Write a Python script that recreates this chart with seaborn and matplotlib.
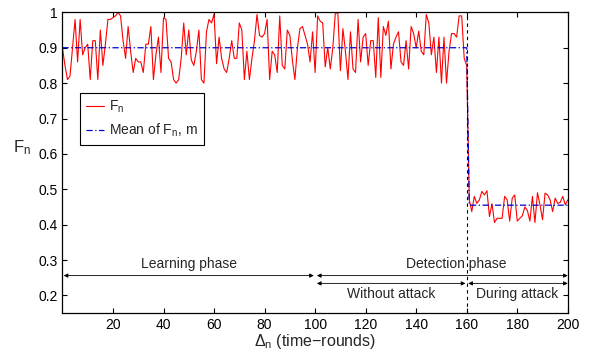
import numpy as np
import matplotlib
matplotlib.use("Agg")
import matplotlib.pyplot as plt
import seaborn as sns

# F_n before the attack starts (rounds 0..160)
f_normal = [0.90, 0.85, 0.81, 0.82, 0.90, 0.98, 0.86, 0.98, 0.88, 0.90,
            0.91, 0.81, 0.92, 0.92, 0.81, 0.95, 0.85, 0.91, 0.98, 0.98,
            0.985, 0.99, 1.0, 0.99, 0.92, 0.87, 0.96, 0.89, 0.83, 0.87,
            0.86, 0.86, 0.83, 0.91, 0.91, 0.96, 0.81, 0.88, 0.93, 0.83,
            0.985, 0.98, 0.87, 0.86, 0.81, 0.80, 0.81, 0.87, 0.97, 0.88,
            0.95, 0.865, 0.85, 0.89, 0.95, 0.81, 0.80, 0.945, 0.98, 0.97,
            0.995, 0.855, 0.93, 0.87, 0.84, 0.83, 0.87, 0.92, 0.87, 0.87,
            0.97, 0.95, 0.81, 0.89, 0.81, 0.87, 0.92, 0.994, 0.935, 0.93,
            0.94, 0.98, 0.81, 0.89, 0.88, 0.83, 0.99, 0.85, 0.84, 0.95,
            0.935, 0.865, 0.81, 0.90, 0.954, 0.96, 0.935, 0.91, 0.86, 0.945,
            0.83, 0.99, 0.975, 0.97, 0.846, 0.90, 0.84, 0.90, 0.998, 0.998,
            0.835, 0.954, 0.89, 0.81, 0.945, 0.84, 0.83, 0.98, 0.86, 0.93,
            0.94, 0.85, 0.92, 0.92, 0.816, 0.985, 0.816, 0.96, 0.935, 0.975,
            0.84, 0.91, 0.93, 0.945, 0.86, 0.85, 0.92, 0.84, 0.96, 0.94,
            0.90, 0.947, 0.89, 0.88, 0.994, 0.97, 0.88, 0.93, 0.83, 0.93,
            0.80, 0.93, 0.80, 0.89, 0.94, 0.94, 0.93, 0.99, 0.99, 0.87,
            0.85]
# F_n during the attack (rounds 161..200)
f_attack = [0.47, 0.437, 0.48, 0.46, 0.47, 0.494, 0.484, 0.496, 0.423, 0.459,
            0.406, 0.418, 0.418, 0.418, 0.48, 0.47, 0.41, 0.475, 0.484, 0.41,
            0.418, 0.425, 0.45, 0.44, 0.41, 0.48, 0.406, 0.49, 0.456, 0.414,
            0.489, 0.484, 0.47, 0.437, 0.475, 0.46, 0.463, 0.48, 0.456, 0.47]

mean_normal = 0.9
mean_attack = 0.455

learning_end = 100
attack_start = 160
n_end = 200

xticks = [20, 40, 60, 80, 100, 120, 140, 160, 180, 200]
yticks = [0.2, 0.3, 0.4, 0.5, 0.6, 0.7, 0.8, 0.9, 1.0]
ytick_labels = ["0.2", "0.3", "0.4", "0.5", "0.6", "0.7", "0.8", "0.9", "1"]

fn = np.array(f_normal + f_attack)
rounds = np.arange(len(fn))
m = np.where(rounds <= attack_start, mean_normal, mean_attack)

sns.set_style("ticks")
plt.rcParams["font.family"] = ["Liberation Sans", "DejaVu Sans"]
plt.rcParams["font.size"] = 10
plt.rcParams["mathtext.fontset"] = "custom"
plt.rcParams["mathtext.rm"] = "Liberation Sans"
plt.rcParams["mathtext.it"] = "Liberation Sans"
plt.rcParams["mathtext.default"] = "regular"

fig, ax = plt.subplots(figsize=(5.89, 3.53), dpi=100)
fig.subplots_adjust(left=0.106, right=0.964, top=0.965, bottom=0.113)

sns.lineplot(x=rounds, y=fn, ax=ax, color="red", lw=0.8, label="$F_n$")
sns.lineplot(x=rounds, y=m, ax=ax, color="#0000cc", lw=0.9,
             linestyle=(0, (5, 2, 1, 2)), label="Mean of $F_n$, m")
ax.axvline(attack_start, color="black", lw=0.8, linestyle=(0, (3, 3)))

ax.set_xlim(0, n_end)
ax.set_ylim(0.15, 1.0)
ax.set_xticks(xticks)
ax.set_yticks(yticks)
ax.set_yticklabels(ytick_labels)
ax.tick_params(direction="in", top=True, right=True, length=3.5, width=0.8,
               labelsize=10, colors="black")
for s in ax.spines.values():
    s.set_visible(True)
    s.set_linewidth(0.9)
    s.set_color("black")

ax.set_xlabel(r"$\Delta_n$ (time$-$rounds)", fontsize=11.5, labelpad=0)
ax.set_ylabel("$F_n$", fontsize=12, rotation=0, labelpad=10)
ax.yaxis.set_label_coords(-0.08, 0.52)

# phase arrows
arrow = dict(arrowstyle="<|-|>", color="black", lw=0.6, shrinkA=0, shrinkB=0,
             mutation_scale=6)
y1, y2 = 0.256, 0.234
ax.annotate("", xy=(learning_end - 0.5, y1), xytext=(0.5, y1), arrowprops=arrow)
ax.annotate("", xy=(n_end, y1), xytext=(learning_end + 0.7, y1), arrowprops=arrow)
ax.annotate("", xy=(attack_start - 0.5, y2), xytext=(learning_end + 0.7, y2),
            arrowprops=arrow)
ax.annotate("", xy=(n_end, y2), xytext=(attack_start + 0.6, y2), arrowprops=arrow)
ax.text(50, 0.29, "Learning phase", ha="center", va="center", fontsize=10)
ax.text(156, 0.29, "Detection phase", ha="center", va="center", fontsize=10)
ax.text(130, 0.205, "Without attack", ha="center", va="center", fontsize=10)
ax.text(180, 0.205, "During attack", ha="center", va="center", fontsize=10)

leg = ax.legend(loc="upper left", bbox_to_anchor=(0.035, 0.732), borderaxespad=0,
                frameon=True, fancybox=False, framealpha=1, edgecolor="black",
                handlelength=1.3, handletextpad=0.4, borderpad=0.4,
                labelspacing=0.5, fontsize=10)
leg.get_frame().set_linewidth(0.8)

fig.savefig("out.png", dpi=100)
